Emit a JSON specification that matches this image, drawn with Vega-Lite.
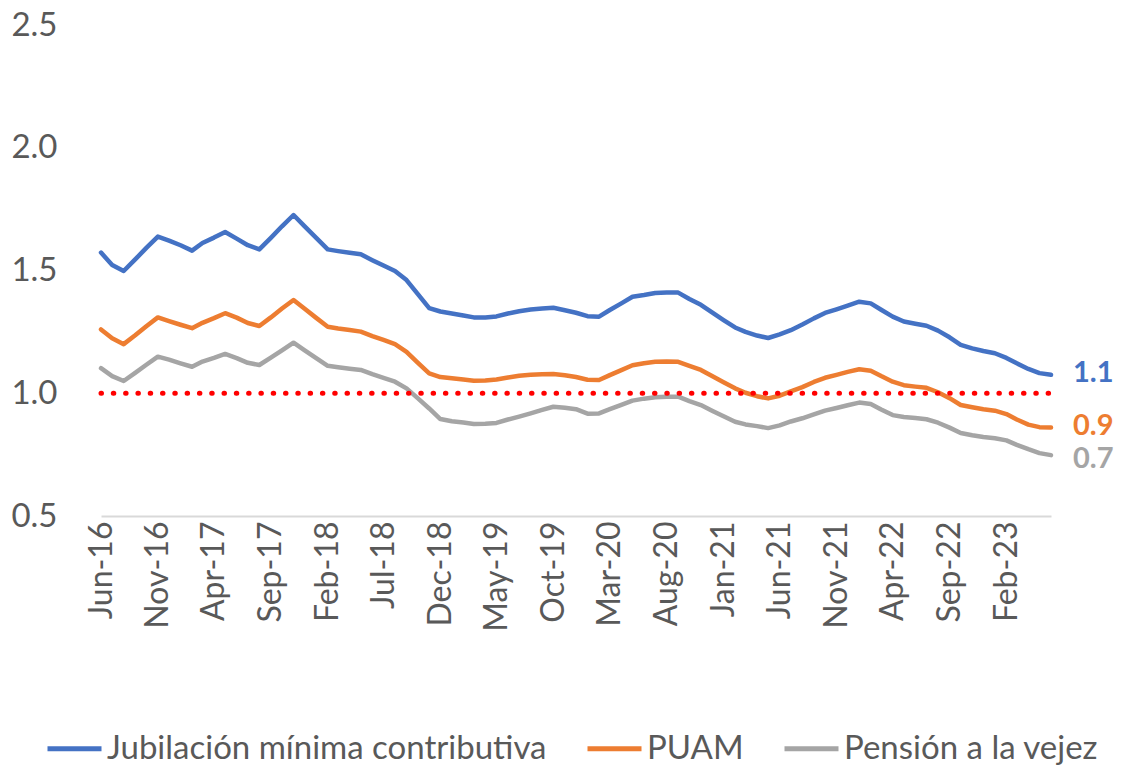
{
  "$schema": "https://vega.github.io/schema/vega-lite/v6.json",
  "width": 950,
  "height": 491,
  "autosize": {"type": "none"},
  "padding": {"left": 101, "top": 25, "right": 71, "bottom": 256},
  "background": "white",
  "config": {
    "view": {"stroke": null},
    "font": "Lato",
    "axis": {"labelFont": "Lato", "labelColor": "#595959", "grid": false, "ticks": false, "title": null},
    "legend": {"labelFont": "Lato"}
  },
  "datasets": {
    "series": [
      {"date":"2016-06-01","series":"Jubilación mínima contributiva","value":1.573},
      {"date":"2016-07-01","series":"Jubilación mínima contributiva","value":1.522},
      {"date":"2016-08-01","series":"Jubilación mínima contributiva","value":1.498},
      {"date":"2016-09-01","series":"Jubilación mínima contributiva","value":1.545},
      {"date":"2016-10-01","series":"Jubilación mínima contributiva","value":1.592},
      {"date":"2016-11-01","series":"Jubilación mínima contributiva","value":1.638},
      {"date":"2016-12-01","series":"Jubilación mínima contributiva","value":1.622},
      {"date":"2017-01-01","series":"Jubilación mínima contributiva","value":1.603},
      {"date":"2017-02-01","series":"Jubilación mínima contributiva","value":1.581},
      {"date":"2017-03-01","series":"Jubilación mínima contributiva","value":1.612},
      {"date":"2017-04-01","series":"Jubilación mínima contributiva","value":1.634},
      {"date":"2017-05-01","series":"Jubilación mínima contributiva","value":1.657},
      {"date":"2017-06-01","series":"Jubilación mínima contributiva","value":1.630},
      {"date":"2017-07-01","series":"Jubilación mínima contributiva","value":1.603},
      {"date":"2017-08-01","series":"Jubilación mínima contributiva","value":1.586},
      {"date":"2017-09-01","series":"Jubilación mínima contributiva","value":1.633},
      {"date":"2017-10-01","series":"Jubilación mínima contributiva","value":1.680},
      {"date":"2017-11-01","series":"Jubilación mínima contributiva","value":1.726},
      {"date":"2017-12-01","series":"Jubilación mínima contributiva","value":1.680},
      {"date":"2018-01-01","series":"Jubilación mínima contributiva","value":1.633},
      {"date":"2018-02-01","series":"Jubilación mínima contributiva","value":1.586},
      {"date":"2018-03-01","series":"Jubilación mínima contributiva","value":1.579},
      {"date":"2018-04-01","series":"Jubilación mínima contributiva","value":1.572},
      {"date":"2018-05-01","series":"Jubilación mínima contributiva","value":1.566},
      {"date":"2018-06-01","series":"Jubilación mínima contributiva","value":1.542},
      {"date":"2018-07-01","series":"Jubilación mínima contributiva","value":1.520},
      {"date":"2018-08-01","series":"Jubilación mínima contributiva","value":1.498},
      {"date":"2018-09-01","series":"Jubilación mínima contributiva","value":1.461},
      {"date":"2018-10-01","series":"Jubilación mínima contributiva","value":1.405},
      {"date":"2018-11-01","series":"Jubilación mínima contributiva","value":1.347},
      {"date":"2018-12-01","series":"Jubilación mínima contributiva","value":1.333},
      {"date":"2019-01-01","series":"Jubilación mínima contributiva","value":1.325},
      {"date":"2019-02-01","series":"Jubilación mínima contributiva","value":1.317},
      {"date":"2019-03-01","series":"Jubilación mínima contributiva","value":1.309},
      {"date":"2019-04-01","series":"Jubilación mínima contributiva","value":1.309},
      {"date":"2019-05-01","series":"Jubilación mínima contributiva","value":1.313},
      {"date":"2019-06-01","series":"Jubilación mínima contributiva","value":1.325},
      {"date":"2019-07-01","series":"Jubilación mínima contributiva","value":1.334},
      {"date":"2019-08-01","series":"Jubilación mínima contributiva","value":1.341},
      {"date":"2019-09-01","series":"Jubilación mínima contributiva","value":1.345},
      {"date":"2019-10-01","series":"Jubilación mínima contributiva","value":1.348},
      {"date":"2019-11-01","series":"Jubilación mínima contributiva","value":1.338},
      {"date":"2019-12-01","series":"Jubilación mínima contributiva","value":1.328},
      {"date":"2020-01-01","series":"Jubilación mínima contributiva","value":1.314},
      {"date":"2020-02-01","series":"Jubilación mínima contributiva","value":1.312},
      {"date":"2020-03-01","series":"Jubilación mínima contributiva","value":1.339},
      {"date":"2020-04-01","series":"Jubilación mínima contributiva","value":1.366},
      {"date":"2020-05-01","series":"Jubilación mínima contributiva","value":1.393},
      {"date":"2020-06-01","series":"Jubilación mínima contributiva","value":1.400},
      {"date":"2020-07-01","series":"Jubilación mínima contributiva","value":1.408},
      {"date":"2020-08-01","series":"Jubilación mínima contributiva","value":1.410},
      {"date":"2020-09-01","series":"Jubilación mínima contributiva","value":1.410},
      {"date":"2020-10-01","series":"Jubilación mínima contributiva","value":1.384},
      {"date":"2020-11-01","series":"Jubilación mínima contributiva","value":1.360},
      {"date":"2020-12-01","series":"Jubilación mínima contributiva","value":1.329},
      {"date":"2021-01-01","series":"Jubilación mínima contributiva","value":1.298},
      {"date":"2021-02-01","series":"Jubilación mínima contributiva","value":1.268},
      {"date":"2021-03-01","series":"Jubilación mínima contributiva","value":1.250},
      {"date":"2021-04-01","series":"Jubilación mínima contributiva","value":1.235},
      {"date":"2021-05-01","series":"Jubilación mínima contributiva","value":1.225},
      {"date":"2021-06-01","series":"Jubilación mínima contributiva","value":1.240},
      {"date":"2021-07-01","series":"Jubilación mínima contributiva","value":1.257},
      {"date":"2021-08-01","series":"Jubilación mínima contributiva","value":1.280},
      {"date":"2021-09-01","series":"Jubilación mínima contributiva","value":1.305},
      {"date":"2021-10-01","series":"Jubilación mínima contributiva","value":1.327},
      {"date":"2021-11-01","series":"Jubilación mínima contributiva","value":1.342},
      {"date":"2021-12-01","series":"Jubilación mínima contributiva","value":1.357},
      {"date":"2022-01-01","series":"Jubilación mínima contributiva","value":1.373},
      {"date":"2022-02-01","series":"Jubilación mínima contributiva","value":1.366},
      {"date":"2022-03-01","series":"Jubilación mínima contributiva","value":1.340},
      {"date":"2022-04-01","series":"Jubilación mínima contributiva","value":1.312},
      {"date":"2022-05-01","series":"Jubilación mínima contributiva","value":1.292},
      {"date":"2022-06-01","series":"Jubilación mínima contributiva","value":1.283},
      {"date":"2022-07-01","series":"Jubilación mínima contributiva","value":1.275},
      {"date":"2022-08-01","series":"Jubilación mínima contributiva","value":1.255},
      {"date":"2022-09-01","series":"Jubilación mínima contributiva","value":1.228},
      {"date":"2022-10-01","series":"Jubilación mínima contributiva","value":1.197},
      {"date":"2022-11-01","series":"Jubilación mínima contributiva","value":1.183},
      {"date":"2022-12-01","series":"Jubilación mínima contributiva","value":1.172},
      {"date":"2023-01-01","series":"Jubilación mínima contributiva","value":1.163},
      {"date":"2023-02-01","series":"Jubilación mínima contributiva","value":1.144},
      {"date":"2023-03-01","series":"Jubilación mínima contributiva","value":1.122},
      {"date":"2023-04-01","series":"Jubilación mínima contributiva","value":1.099},
      {"date":"2023-05-01","series":"Jubilación mínima contributiva","value":1.082},
      {"date":"2023-06-01","series":"Jubilación mínima contributiva","value":1.075},
      {"date":"2016-06-01","series":"PUAM","value":1.260},
      {"date":"2016-07-01","series":"PUAM","value":1.224},
      {"date":"2016-08-01","series":"PUAM","value":1.200},
      {"date":"2016-09-01","series":"PUAM","value":1.236},
      {"date":"2016-10-01","series":"PUAM","value":1.273},
      {"date":"2016-11-01","series":"PUAM","value":1.309},
      {"date":"2016-12-01","series":"PUAM","value":1.294},
      {"date":"2017-01-01","series":"PUAM","value":1.279},
      {"date":"2017-02-01","series":"PUAM","value":1.265},
      {"date":"2017-03-01","series":"PUAM","value":1.287},
      {"date":"2017-04-01","series":"PUAM","value":1.306},
      {"date":"2017-05-01","series":"PUAM","value":1.326},
      {"date":"2017-06-01","series":"PUAM","value":1.308},
      {"date":"2017-07-01","series":"PUAM","value":1.286},
      {"date":"2017-08-01","series":"PUAM","value":1.274},
      {"date":"2017-09-01","series":"PUAM","value":1.309},
      {"date":"2017-10-01","series":"PUAM","value":1.345},
      {"date":"2017-11-01","series":"PUAM","value":1.380},
      {"date":"2017-12-01","series":"PUAM","value":1.344},
      {"date":"2018-01-01","series":"PUAM","value":1.307},
      {"date":"2018-02-01","series":"PUAM","value":1.271},
      {"date":"2018-03-01","series":"PUAM","value":1.264},
      {"date":"2018-04-01","series":"PUAM","value":1.258},
      {"date":"2018-05-01","series":"PUAM","value":1.251},
      {"date":"2018-06-01","series":"PUAM","value":1.233},
      {"date":"2018-07-01","series":"PUAM","value":1.217},
      {"date":"2018-08-01","series":"PUAM","value":1.200},
      {"date":"2018-09-01","series":"PUAM","value":1.169},
      {"date":"2018-10-01","series":"PUAM","value":1.125},
      {"date":"2018-11-01","series":"PUAM","value":1.081},
      {"date":"2018-12-01","series":"PUAM","value":1.066},
      {"date":"2019-01-01","series":"PUAM","value":1.061},
      {"date":"2019-02-01","series":"PUAM","value":1.056},
      {"date":"2019-03-01","series":"PUAM","value":1.051},
      {"date":"2019-04-01","series":"PUAM","value":1.052},
      {"date":"2019-05-01","series":"PUAM","value":1.056},
      {"date":"2019-06-01","series":"PUAM","value":1.064},
      {"date":"2019-07-01","series":"PUAM","value":1.071},
      {"date":"2019-08-01","series":"PUAM","value":1.075},
      {"date":"2019-09-01","series":"PUAM","value":1.077},
      {"date":"2019-10-01","series":"PUAM","value":1.078},
      {"date":"2019-11-01","series":"PUAM","value":1.073},
      {"date":"2019-12-01","series":"PUAM","value":1.066},
      {"date":"2020-01-01","series":"PUAM","value":1.055},
      {"date":"2020-02-01","series":"PUAM","value":1.054},
      {"date":"2020-03-01","series":"PUAM","value":1.074},
      {"date":"2020-04-01","series":"PUAM","value":1.094},
      {"date":"2020-05-01","series":"PUAM","value":1.114},
      {"date":"2020-06-01","series":"PUAM","value":1.122},
      {"date":"2020-07-01","series":"PUAM","value":1.128},
      {"date":"2020-08-01","series":"PUAM","value":1.129},
      {"date":"2020-09-01","series":"PUAM","value":1.128},
      {"date":"2020-10-01","series":"PUAM","value":1.112},
      {"date":"2020-11-01","series":"PUAM","value":1.095},
      {"date":"2020-12-01","series":"PUAM","value":1.070},
      {"date":"2021-01-01","series":"PUAM","value":1.045},
      {"date":"2021-02-01","series":"PUAM","value":1.020},
      {"date":"2021-03-01","series":"PUAM","value":1.002},
      {"date":"2021-04-01","series":"PUAM","value":0.988},
      {"date":"2021-05-01","series":"PUAM","value":0.979},
      {"date":"2021-06-01","series":"PUAM","value":0.990},
      {"date":"2021-07-01","series":"PUAM","value":1.008},
      {"date":"2021-08-01","series":"PUAM","value":1.025},
      {"date":"2021-09-01","series":"PUAM","value":1.046},
      {"date":"2021-10-01","series":"PUAM","value":1.063},
      {"date":"2021-11-01","series":"PUAM","value":1.075},
      {"date":"2021-12-01","series":"PUAM","value":1.087},
      {"date":"2022-01-01","series":"PUAM","value":1.098},
      {"date":"2022-02-01","series":"PUAM","value":1.092},
      {"date":"2022-03-01","series":"PUAM","value":1.070},
      {"date":"2022-04-01","series":"PUAM","value":1.047},
      {"date":"2022-05-01","series":"PUAM","value":1.033},
      {"date":"2022-06-01","series":"PUAM","value":1.027},
      {"date":"2022-07-01","series":"PUAM","value":1.022},
      {"date":"2022-08-01","series":"PUAM","value":1.004},
      {"date":"2022-09-01","series":"PUAM","value":0.980},
      {"date":"2022-10-01","series":"PUAM","value":0.952},
      {"date":"2022-11-01","series":"PUAM","value":0.943},
      {"date":"2022-12-01","series":"PUAM","value":0.935},
      {"date":"2023-01-01","series":"PUAM","value":0.929},
      {"date":"2023-02-01","series":"PUAM","value":0.915},
      {"date":"2023-03-01","series":"PUAM","value":0.893},
      {"date":"2023-04-01","series":"PUAM","value":0.872},
      {"date":"2023-05-01","series":"PUAM","value":0.862},
      {"date":"2023-06-01","series":"PUAM","value":0.860},
      {"date":"2016-06-01","series":"Pensión a la vejez","value":1.102},
      {"date":"2016-07-01","series":"Pensión a la vejez","value":1.070},
      {"date":"2016-08-01","series":"Pensión a la vejez","value":1.050},
      {"date":"2016-09-01","series":"Pensión a la vejez","value":1.083},
      {"date":"2016-10-01","series":"Pensión a la vejez","value":1.116},
      {"date":"2016-11-01","series":"Pensión a la vejez","value":1.149},
      {"date":"2016-12-01","series":"Pensión a la vejez","value":1.137},
      {"date":"2017-01-01","series":"Pensión a la vejez","value":1.122},
      {"date":"2017-02-01","series":"Pensión a la vejez","value":1.108},
      {"date":"2017-03-01","series":"Pensión a la vejez","value":1.129},
      {"date":"2017-04-01","series":"Pensión a la vejez","value":1.144},
      {"date":"2017-05-01","series":"Pensión a la vejez","value":1.160},
      {"date":"2017-06-01","series":"Pensión a la vejez","value":1.143},
      {"date":"2017-07-01","series":"Pensión a la vejez","value":1.124},
      {"date":"2017-08-01","series":"Pensión a la vejez","value":1.115},
      {"date":"2017-09-01","series":"Pensión a la vejez","value":1.145},
      {"date":"2017-10-01","series":"Pensión a la vejez","value":1.175},
      {"date":"2017-11-01","series":"Pensión a la vejez","value":1.206},
      {"date":"2017-12-01","series":"Pensión a la vejez","value":1.175},
      {"date":"2018-01-01","series":"Pensión a la vejez","value":1.143},
      {"date":"2018-02-01","series":"Pensión a la vejez","value":1.112},
      {"date":"2018-03-01","series":"Pensión a la vejez","value":1.106},
      {"date":"2018-04-01","series":"Pensión a la vejez","value":1.100},
      {"date":"2018-05-01","series":"Pensión a la vejez","value":1.095},
      {"date":"2018-06-01","series":"Pensión a la vejez","value":1.078},
      {"date":"2018-07-01","series":"Pensión a la vejez","value":1.063},
      {"date":"2018-08-01","series":"Pensión a la vejez","value":1.047},
      {"date":"2018-09-01","series":"Pensión a la vejez","value":1.020},
      {"date":"2018-10-01","series":"Pensión a la vejez","value":0.980},
      {"date":"2018-11-01","series":"Pensión a la vejez","value":0.938},
      {"date":"2018-12-01","series":"Pensión a la vejez","value":0.895},
      {"date":"2019-01-01","series":"Pensión a la vejez","value":0.886},
      {"date":"2019-02-01","series":"Pensión a la vejez","value":0.881},
      {"date":"2019-03-01","series":"Pensión a la vejez","value":0.875},
      {"date":"2019-04-01","series":"Pensión a la vejez","value":0.876},
      {"date":"2019-05-01","series":"Pensión a la vejez","value":0.879},
      {"date":"2019-06-01","series":"Pensión a la vejez","value":0.893},
      {"date":"2019-07-01","series":"Pensión a la vejez","value":0.905},
      {"date":"2019-08-01","series":"Pensión a la vejez","value":0.918},
      {"date":"2019-09-01","series":"Pensión a la vejez","value":0.932},
      {"date":"2019-10-01","series":"Pensión a la vejez","value":0.945},
      {"date":"2019-11-01","series":"Pensión a la vejez","value":0.941},
      {"date":"2019-12-01","series":"Pensión a la vejez","value":0.935},
      {"date":"2020-01-01","series":"Pensión a la vejez","value":0.917},
      {"date":"2020-02-01","series":"Pensión a la vejez","value":0.918},
      {"date":"2020-03-01","series":"Pensión a la vejez","value":0.935},
      {"date":"2020-04-01","series":"Pensión a la vejez","value":0.953},
      {"date":"2020-05-01","series":"Pensión a la vejez","value":0.970},
      {"date":"2020-06-01","series":"Pensión a la vejez","value":0.978},
      {"date":"2020-07-01","series":"Pensión a la vejez","value":0.984},
      {"date":"2020-08-01","series":"Pensión a la vejez","value":0.986},
      {"date":"2020-09-01","series":"Pensión a la vejez","value":0.986},
      {"date":"2020-10-01","series":"Pensión a la vejez","value":0.968},
      {"date":"2020-11-01","series":"Pensión a la vejez","value":0.952},
      {"date":"2020-12-01","series":"Pensión a la vejez","value":0.929},
      {"date":"2021-01-01","series":"Pensión a la vejez","value":0.906},
      {"date":"2021-02-01","series":"Pensión a la vejez","value":0.884},
      {"date":"2021-03-01","series":"Pensión a la vejez","value":0.873},
      {"date":"2021-04-01","series":"Pensión a la vejez","value":0.866},
      {"date":"2021-05-01","series":"Pensión a la vejez","value":0.858},
      {"date":"2021-06-01","series":"Pensión a la vejez","value":0.869},
      {"date":"2021-07-01","series":"Pensión a la vejez","value":0.885},
      {"date":"2021-08-01","series":"Pensión a la vejez","value":0.898},
      {"date":"2021-09-01","series":"Pensión a la vejez","value":0.914},
      {"date":"2021-10-01","series":"Pensión a la vejez","value":0.929},
      {"date":"2021-11-01","series":"Pensión a la vejez","value":0.940},
      {"date":"2021-12-01","series":"Pensión a la vejez","value":0.951},
      {"date":"2022-01-01","series":"Pensión a la vejez","value":0.962},
      {"date":"2022-02-01","series":"Pensión a la vejez","value":0.956},
      {"date":"2022-03-01","series":"Pensión a la vejez","value":0.934},
      {"date":"2022-04-01","series":"Pensión a la vejez","value":0.911},
      {"date":"2022-05-01","series":"Pensión a la vejez","value":0.903},
      {"date":"2022-06-01","series":"Pensión a la vejez","value":0.899},
      {"date":"2022-07-01","series":"Pensión a la vejez","value":0.894},
      {"date":"2022-08-01","series":"Pensión a la vejez","value":0.880},
      {"date":"2022-09-01","series":"Pensión a la vejez","value":0.860},
      {"date":"2022-10-01","series":"Pensión a la vejez","value":0.838},
      {"date":"2022-11-01","series":"Pensión a la vejez","value":0.829},
      {"date":"2022-12-01","series":"Pensión a la vejez","value":0.822},
      {"date":"2023-01-01","series":"Pensión a la vejez","value":0.817},
      {"date":"2023-02-01","series":"Pensión a la vejez","value":0.808},
      {"date":"2023-03-01","series":"Pensión a la vejez","value":0.790},
      {"date":"2023-04-01","series":"Pensión a la vejez","value":0.772},
      {"date":"2023-05-01","series":"Pensión a la vejez","value":0.756},
      {"date":"2023-06-01","series":"Pensión a la vejez","value":0.748}
    ],
    "threshold": [
      {"date":"2016-06-01","value":1.0},
      {"date":"2023-06-01","value":1.0}
    ]
  },
  "encoding": {
    "x": {
      "field": "date",
      "type": "temporal",
      "scale": {"type": "utc"},
      "axis": {
        "values": [
          {"year":2016,"month":6,"date":1,"utc":true},
          {"year":2016,"month":11,"date":1,"utc":true},
          {"year":2017,"month":4,"date":1,"utc":true},
          {"year":2017,"month":9,"date":1,"utc":true},
          {"year":2018,"month":2,"date":1,"utc":true},
          {"year":2018,"month":7,"date":1,"utc":true},
          {"year":2018,"month":12,"date":1,"utc":true},
          {"year":2019,"month":5,"date":1,"utc":true},
          {"year":2019,"month":10,"date":1,"utc":true},
          {"year":2020,"month":3,"date":1,"utc":true},
          {"year":2020,"month":8,"date":1,"utc":true},
          {"year":2021,"month":1,"date":1,"utc":true},
          {"year":2021,"month":6,"date":1,"utc":true},
          {"year":2021,"month":11,"date":1,"utc":true},
          {"year":2022,"month":4,"date":1,"utc":true},
          {"year":2022,"month":9,"date":1,"utc":true},
          {"year":2023,"month":2,"date":1,"utc":true}
        ],
        "labelExpr": "utcFormat(datum.value, '%b-%y')",
        "labelAngle": 270,
        "labelAlign": "right",
        "labelBaseline": "middle",
        "labelFontSize": 32,
        "labelPadding": 5,
        "labelOverlap": false,
        "labelFlush": false,
        "domain": true,
        "domainColor": "#d9d9d9",
        "domainWidth": 2
      }
    },
    "y": {
      "field": "value",
      "type": "quantitative",
      "scale": {"domain": [0.5, 2.5], "zero": false, "nice": false},
      "axis": {
        "values": [0.5, 1.0, 1.5, 2.0, 2.5],
        "format": ".1f",
        "labelFontSize": 33,
        "labelPadding": 44,
        "domain": false
      }
    }
  },
  "layer": [
    {
      "data": {"name": "series"},
      "mark": {"type": "line", "strokeWidth": 4.5, "strokeCap": "round", "strokeJoin": "round"},
      "encoding": {
        "color": {
          "field": "series",
          "type": "nominal",
          "scale": {
            "domain": ["Jubilación mínima contributiva", "PUAM", "Pensión a la vejez"],
            "range": ["#4472C4", "#ED7D31", "#A5A5A5"]
          },
          "legend": {
            "title": null,
            "orient": "none",
            "direction": "horizontal",
            "legendX": -56,
            "legendY": 694,
            "symbolType": "stroke",
            "symbolSize": 2916,
            "symbolStrokeWidth": 5,
            "labelFontSize": 33,
            "labelColor": "#595959",
            "labelOffset": 3,
            "columnPadding": 30,
            "labelLimit": 700
          }
        }
      }
    },
    {
      "data": {"name": "series"},
      "transform": [
        {"filter": "datum.series !== 'Pensión a la vejez'"},
        {"aggregate": [{"op": "argmax", "field": "date", "as": "last"}], "groupby": ["series"]}
      ],
      "mark": {"type": "text", "align": "left", "baseline": "middle", "dx": 22, "dy": -2, "fontSize": 29, "fontWeight": "bold"},
      "encoding": {
        "x": {"field": "last.date", "type": "temporal"},
        "y": {"field": "last.value", "type": "quantitative"},
        "text": {"field": "last.value", "type": "quantitative", "format": ".1f"},
        "color": {"field": "series", "type": "nominal", "legend": null}
      }
    },
    {
      "data": {"name": "series"},
      "transform": [
        {"filter": "datum.series === 'Pensión a la vejez'"},
        {"aggregate": [{"op": "argmax", "field": "date", "as": "last"}], "groupby": ["series"]}
      ],
      "mark": {"type": "text", "align": "left", "baseline": "middle", "dx": 22, "dy": 4, "fontSize": 29, "fontWeight": "bold"},
      "encoding": {
        "x": {"field": "last.date", "type": "temporal"},
        "y": {"field": "last.value", "type": "quantitative"},
        "text": {"field": "last.value", "type": "quantitative", "format": ".1f"},
        "color": {"field": "series", "type": "nominal", "legend": null}
      }
    },
    {
      "data": {"name": "threshold"},
      "mark": {"type": "line", "color": "#FF0000", "strokeWidth": 5, "strokeCap": "round", "strokeDash": [0.5, 11.8]},
      "encoding": {}
    }
  ]
}
